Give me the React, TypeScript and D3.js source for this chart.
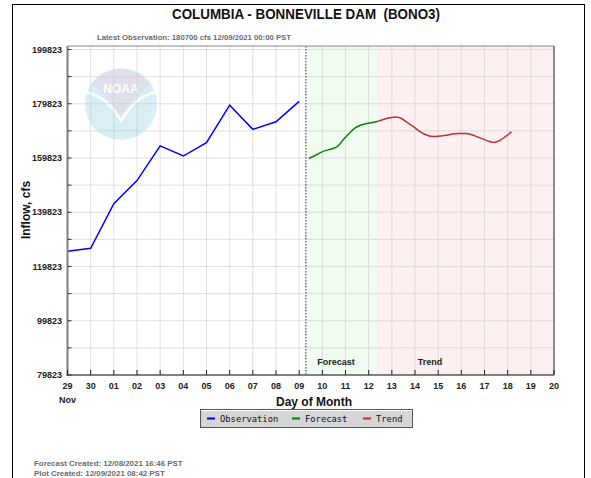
import React, { useEffect } from "react";
import * as d3 from "d3";

// observed daily inflow (cfs)
const obsTimes = [
  "2021-11-29T00:00", "2021-11-30T00:00", "2021-12-01T00:00", "2021-12-02T00:00",
  "2021-12-03T00:00", "2021-12-04T00:00", "2021-12-05T00:00", "2021-12-06T00:00",
  "2021-12-07T00:00", "2021-12-08T00:00", "2021-12-09T00:00",
];
const obsValues = [125450, 126550, 143000, 151500, 164300, 160550, 165500, 179300, 170400, 173200, 180700];

// 6-hourly forecast
const forecastTimes = [
  "2021-12-09T10:00", "2021-12-09T16:00", "2021-12-09T22:00", "2021-12-10T04:00",
  "2021-12-10T10:00", "2021-12-10T16:00", "2021-12-10T22:00", "2021-12-11T04:00",
  "2021-12-11T10:00", "2021-12-11T16:00", "2021-12-11T22:00", "2021-12-12T04:00",
  "2021-12-12T10:00",
];
const forecastValues = [159680, 160660, 161830, 162640, 163220, 164140, 166700, 168960, 170900, 172000, 172550, 172910, 173350];

// 6-hourly trend
const trendTimes = [
  "2021-12-12T10:00", "2021-12-12T16:00", "2021-12-12T22:00", "2021-12-13T04:00",
  "2021-12-13T10:00", "2021-12-13T16:00", "2021-12-13T22:00", "2021-12-14T04:00",
  "2021-12-14T10:00", "2021-12-14T16:00", "2021-12-14T22:00", "2021-12-15T04:00",
  "2021-12-15T10:00", "2021-12-15T16:00", "2021-12-15T22:00", "2021-12-16T04:00",
  "2021-12-16T10:00", "2021-12-16T16:00", "2021-12-16T22:00", "2021-12-17T04:00",
  "2021-12-17T10:00", "2021-12-17T16:00", "2021-12-17T22:00", "2021-12-18T04:00",
];
const trendValues = [
  173350, 174080, 174630, 174920, 174370, 172910, 171450, 169800, 168560, 167870, 167720, 167980,
  168340, 168780, 168890, 168850, 168520, 167720, 166880, 166040, 165530, 166330, 167790, 169440,
];

const yTicks = [79823, 99823, 119823, 139823, 159823, 179823, 199823];
const dayLabels = ["29", "30", "01", "02", "03", "04", "05", "06", "07", "08", "09", "10", "11", "12", "13", "14", "15", "16", "17", "18", "19", "20"];

const startTime = "2021-11-29T00:00";
const endTime = "2021-12-20T00:00";
const nowTime = "2021-12-09T07:00";
const forecastEnd = "2021-12-12T08:00";

const t = (s: string) => new Date(s + ":00Z");

const legendItems = [
  { label: "Observation", color: "#0000ff", x: 207 },
  { label: "Forecast", color: "#008000", x: 292 },
  { label: "Trend", color: "#c03030", x: 363 },
];

const FONT = '"Liberation Sans", Arial, Helvetica, sans-serif';

export default function App() {
  useEffect(() => {
    document.body.style.margin = "0";
  }, []);

  const left = 67.5, right = 554, top = 46, bottom = 375;
  const x = d3.scaleUtc().domain([t(startTime), t(endTime)]).range([left, right]);
  const y = d3.scaleLinear().domain([79823, 199823]).range([bottom, 49.5]);

  const days = d3.utcDay.range(t(startTime), d3.utcDay.offset(t(endTime), 1));
  const yGrid = d3.range(79823, 199824, 10000);

  const line = d3
    .line<[string, number]>()
    .x((d) => x(t(d[0])))
    .y((d) => y(d[1]));
  const smooth = d3
    .line<[string, number]>()
    .x((d) => x(t(d[0])))
    .y((d) => y(d[1]))
    .curve(d3.curveMonotoneX);

  const obs = obsTimes.map((s, i) => [s, obsValues[i]] as [string, number]);
  const fc = forecastTimes.map((s, i) => [s, forecastValues[i]] as [string, number]);
  const tr = trendTimes.map((s, i) => [s, trendValues[i]] as [string, number]);

  const xNow = x(t(nowTime));
  const xFcEnd = x(t(forecastEnd));

  return (
    <svg width={591} height={478} style={{ display: "block", fontFamily: FONT }}>
      <rect x={0} y={0} width={591} height={478} fill="#fff" />
      <rect x={12.5} y={4.5} width={572} height={490} fill="none" stroke="#000" />

      <text x={306} y={19} textAnchor="middle" fontSize={14} fontWeight="bold" fill="#111" textLength={268} lengthAdjust="spacingAndGlyphs">
        {"COLUMBIA - BONNEVILLE DAM \u00a0(BONO3)"}
      </text>
      <text x={97} y={40} fontSize={7.5} fontWeight="bold" fill="#6b6b6b" textLength={194} lengthAdjust="spacingAndGlyphs">
        Latest Observation: 180700 cfs 12/09/2021 00:00 PST
      </text>

      {/* shaded forecast / trend regions */}
      <rect x={xNow} y={top} width={xFcEnd - xNow} height={bottom - top} fill="#effcef" />
      <rect x={xFcEnd} y={top} width={right - xFcEnd} height={bottom - top} fill="#fdf0f0" />

      {/* NOAA logo watermark */}
      <g opacity={0.9}>
        <circle cx={121} cy={104} r={36} fill="#d5edf5" />
        <path d="M 92,84 A 36,36 0 0 1 150,84 Q 140,92 133,101 Q 125,111 121,117 Q 116,108 109,100 Q 101,91 92,84 Z" fill="#dddcec" />
        <path d="M 86,92 Q 108,97 121,121 Q 134,97 156,92" fill="none" stroke="#fff" strokeWidth={2.5} />
        <text x={121} y={93} textAnchor="middle" fontSize={12} fontWeight="bold" fill="#fff">NOAA</text>
      </g>

      {/* grid */}
      {days.map((d, i) => (
        <line key={"vx" + i} x1={x(d)} x2={x(d)} y1={top} y2={bottom} stroke="#c8c8c8" strokeOpacity={0.55} />
      ))}
      {yGrid.map((v, i) => (
        <line key={"hy" + i} x1={left} x2={right} y1={y(v)} y2={y(v)} stroke="#c8c8c8" strokeOpacity={0.55} />
      ))}

      {/* now marker */}
      <line x1={xNow} x2={xNow} y1={top} y2={bottom} stroke="#333" strokeDasharray="1.5,1.5" />

      <text x={336} y={365} textAnchor="middle" fontSize={9} fontWeight="bold" fill="#222">Forecast</text>
      <text x={430} y={365} textAnchor="middle" fontSize={9} fontWeight="bold" fill="#222">Trend</text>

      {/* series */}
      <path d={line(obs) ?? ""} fill="none" stroke="#0000ff" strokeWidth={1.5} />
      <path d={smooth(fc) ?? ""} fill="none" stroke="#0a7d0a" strokeWidth={1.5} />
      <path d={smooth(tr) ?? ""} fill="none" stroke="#c03030" strokeWidth={1.5} />

      {/* plot frame */}
      <line x1={left} x2={right} y1={top} y2={top} stroke="#8a8a8a" strokeWidth={1.2} />
      <line x1={right} x2={right} y1={top} y2={bottom} stroke="#6a6a6a" strokeWidth={1.5} />
      <line x1={left} x2={left} y1={top} y2={bottom + 1} stroke="#808080" strokeWidth={2} />
      <line x1={left - 1} x2={right} y1={bottom} y2={bottom} stroke="#808080" strokeWidth={2} />

      {/* y axis */}
      {yGrid.map((v, i) => (
        <line key={"yt" + i} x1={left} x2={left + 4} y1={y(v)} y2={y(v)} stroke="#333" />
      ))}
      {yTicks.map((v) => (
        <text key={"yl" + v} x={62} y={y(v) + 3} textAnchor="end" fontSize={9} fontWeight="bold" fill="#222">
          {v}
        </text>
      ))}
      <text transform="translate(30,210) rotate(-90)" textAnchor="middle" fontSize={12} fontWeight="bold" fill="#111">
        Inflow, cfs
      </text>

      {/* x axis */}
      {days.map((d, i) => (
        <g key={"xt" + i}>
          <line x1={x(d)} x2={x(d)} y1={bottom} y2={bottom - 5} stroke="#222" />
          <text x={x(d)} y={389} textAnchor="middle" fontSize={9} fontWeight="bold" fill="#222">
            {dayLabels[i]}
          </text>
        </g>
      ))}
      <text x={x(t(startTime))} y={403} textAnchor="middle" fontSize={9} fontWeight="bold" fill="#222">Nov</text>
      <text x={314} y={406} textAnchor="middle" fontSize={12} fontWeight="bold" fill="#111">Day of Month</text>

      {/* legend */}
      <rect x={200.5} y={409.5} width={212} height={18} fill="#d6d6d6" stroke="#555" />
      <line x1={201} x2={412} y1={410.5} y2={410.5} stroke="#fff" />
      {legendItems.map((it) => (
        <g key={it.label}>
          <line x1={it.x} x2={it.x + 8} y1={418.5} y2={418.5} stroke={it.color} strokeWidth={2} />
          <text x={it.x + 13} y={421.5} fontSize={8.8} fontFamily='"DejaVu Sans Mono", monospace' fill="#111">
            {it.label}
          </text>
        </g>
      ))}

      <text x={34} y={466} fontSize={7.9} fontWeight="bold" fill="#6b6b6b">Forecast Created: 12/08/2021 16:46 PST</text>
      <text x={34} y={476} fontSize={7.9} fontWeight="bold" fill="#6b6b6b">Plot Created: 12/09/2021 08:42 PST</text>
    </svg>
  );
}
